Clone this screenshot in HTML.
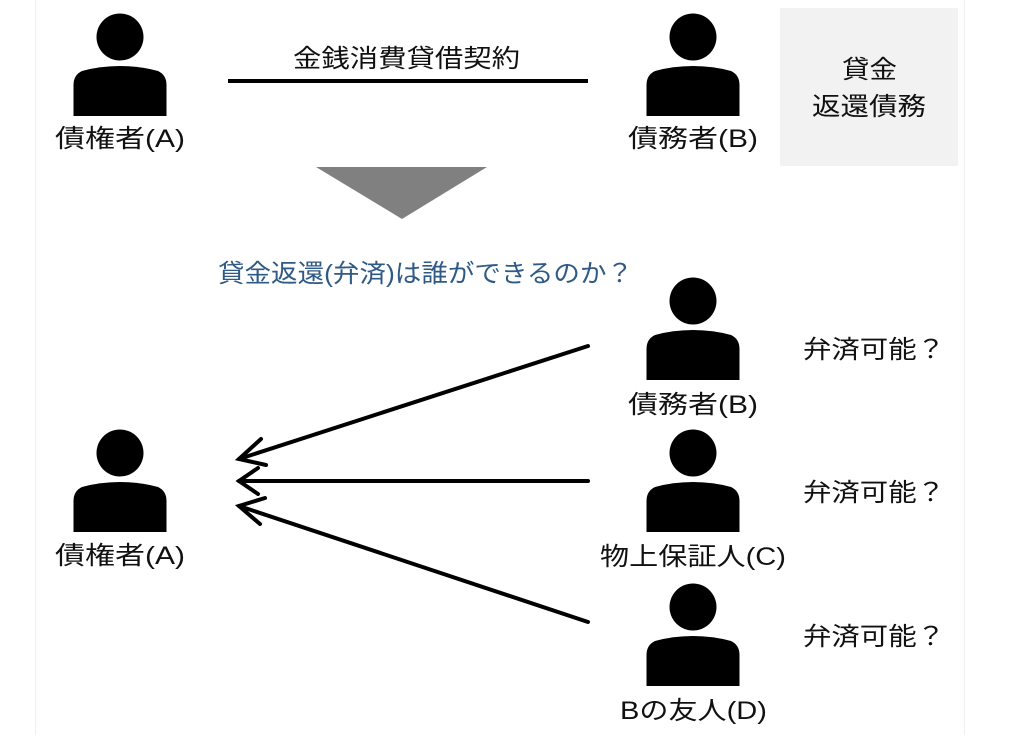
<!DOCTYPE html>
<html><head><meta charset="utf-8"><style>
body{margin:0;background:#fff;}
svg text{font-family:"Liberation Sans","Noto Sans CJK JP",sans-serif;font-size:25px;fill:#111;}
</style></head><body>
<svg width="1030" height="735" viewBox="0 0 1030 735" xmlns="http://www.w3.org/2000/svg">
<defs>
<g id="p">
<circle cx="0" cy="0" r="23.5"/>
<path d="M-46.5 79 L-46.5 48 Q-46.5 38 -38 34 Q-20 29 0 29 Q20 29 38 34 Q46.5 38 46.5 48 L46.5 79 Z"/>
</g>
</defs>
<line x1="35.5" y1="0" x2="35.5" y2="735" stroke="#f0f0f0"/>
<line x1="964.5" y1="0" x2="964.5" y2="735" stroke="#f0f0f0"/>
<rect x="780" y="8" width="178" height="158" fill="#f2f2f2"/>
<text x="842" y="78" textLength="55" lengthAdjust="spacingAndGlyphs">貸金</text>
<text x="812" y="115" textLength="114" lengthAdjust="spacingAndGlyphs">返還債務</text>
<use href="#p" x="120" y="37"/>
<text x="55" y="147" textLength="130" lengthAdjust="spacingAndGlyphs">債権者(A)</text>
<use href="#p" x="693" y="37"/>
<text x="628" y="147" textLength="130" lengthAdjust="spacingAndGlyphs">債務者(B)</text>
<text x="293" y="67" textLength="227" lengthAdjust="spacingAndGlyphs">金銭消費貸借契約</text>
<line x1="228" y1="81" x2="588" y2="81" stroke="#000" stroke-width="4"/>
<polygon points="316,167 487,167 402,219" fill="#808080"/>
<text x="218" y="282" textLength="415" lengthAdjust="spacingAndGlyphs" style="fill:#2f5a86">貸金返還(弁済)は誰ができるのか？</text>
<use href="#p" x="120" y="453"/>
<text x="55" y="564" textLength="130" lengthAdjust="spacingAndGlyphs">債権者(A)</text>
<use href="#p" x="693" y="301"/>
<text x="628" y="413" textLength="130" lengthAdjust="spacingAndGlyphs">債務者(B)</text>
<use href="#p" x="693" y="453"/>
<text x="600" y="565" textLength="186" lengthAdjust="spacingAndGlyphs">物上保証人(C)</text>
<use href="#p" x="693" y="607"/>
<text x="620" y="719" textLength="147" lengthAdjust="spacingAndGlyphs">Bの友人(D)</text>
<text x="803" y="358" textLength="142" lengthAdjust="spacingAndGlyphs">弁済可能？</text>
<text x="803" y="501" textLength="142" lengthAdjust="spacingAndGlyphs">弁済可能？</text>
<text x="803" y="645" textLength="142" lengthAdjust="spacingAndGlyphs">弁済可能？</text>
<g stroke="#000" stroke-width="4" fill="none" stroke-linecap="round">
<line x1="588" y1="346" x2="239" y2="459"/>
<polyline points="261,439 239,459 266,465"/>
<line x1="588" y1="481" x2="239" y2="481"/>
<polyline points="258,468 239,481 258,494"/>
<line x1="588" y1="622" x2="239" y2="506"/>
<polyline points="265,498 239,506 260,524"/>
</g>
</svg>
</body></html>
